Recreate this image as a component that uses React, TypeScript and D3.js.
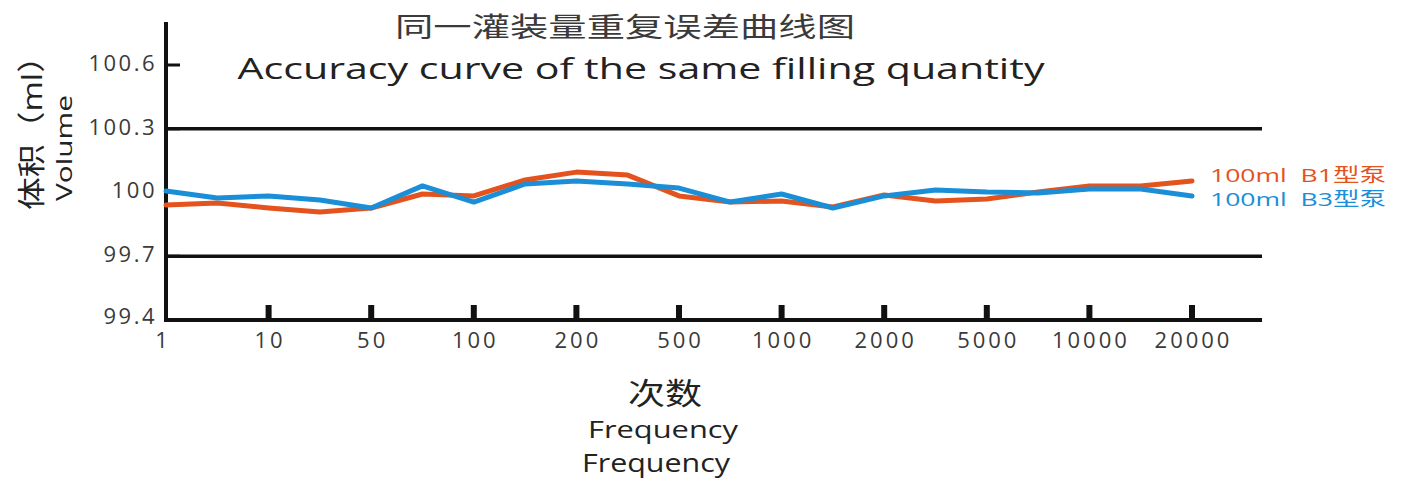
import React from 'react';
import * as d3 from 'd3';

// 21 measurements; every second one gets a labelled tick
const tickLabels = ['1', '10', '50', '100', '200', '500', '1000', '2000', '5000', '10000', '20000'];
const b1Values = [
  99.941, 99.951, 99.927, 99.908, 99.927, 99.993, 99.984, 100.059, 100.096, 100.082, 99.984,
  99.955, 99.96, 99.932, 99.988, 99.96, 99.969, 100.002, 100.031, 100.031, 100.054,
];
const b3Values = [
  100.007, 99.974, 99.984, 99.965, 99.927, 100.031, 99.955, 100.04, 100.054, 100.04, 100.021,
  99.955, 99.993, 99.927, 99.984, 100.012, 100.002, 99.998, 100.016, 100.016, 99.984,
];
const yTicks = [99.4, 99.7, 100, 100.3, 100.6];
const gridValues = [100.3, 99.7];
const seriesNames = ['100ml  B1型泵', '100ml  B3型泵'];

const W = 1402;
const H = 482;
const FONT = '"Open Sans", "Noto Sans CJK SC", sans-serif';
const ORANGE = '#e4531d';
const BLUE = '#1a8ed6';
const TEXT = '#3a3a3a';

const App: React.FC = () => {
  const x = d3.scaleLinear().domain([0, b1Values.length - 1]).range([166, 1192]);
  const y = d3.scaleLinear().domain([99.4, 100.6]).range([320, 65]);
  const line = d3.line<number>()
    .x((_, i) => x(i))
    .y(d => y(d));

  const axisLeft = 166;
  const axisRight = 1262;

  return (
    <svg width={W} height={H} style={{ position: 'absolute', left: 0, top: 0, background: '#fff' }}
      fontFamily={FONT}>
      {/* titles */}
      <text x={625} y={37} textAnchor="middle" fontSize={27} fill={TEXT} textLength={460}
        lengthAdjust="spacingAndGlyphs">同一灌装量重复误差曲线图</text>
      <text x={641} y={79} textAnchor="middle" fontSize={30} fill="#222" textLength={807}
        lengthAdjust="spacingAndGlyphs">Accuracy curve of the same filling quantity</text>

      {/* y axis title */}
      <text transform="translate(42,210) rotate(-90)" fontSize={28} fill="#222" textLength={170}
        lengthAdjust="spacingAndGlyphs">体积（ml）</text>
      <text transform="translate(72,201) rotate(-90)" fontSize={21} fill="#222" textLength={106}
        lengthAdjust="spacingAndGlyphs">Volume</text>

      {/* grid lines */}
      {gridValues.map(v => (
        <line key={v} x1={axisLeft} x2={axisRight} y1={y(v)} y2={y(v)} stroke="#111" strokeWidth={3.5} />
      ))}

      {/* y ticks */}
      {yTicks.slice(1).map(v => (
        <line key={'t' + v} x1={axisLeft} x2={180} y1={y(v)} y2={y(v)} stroke="#111" strokeWidth={3} />
      ))}
      {yTicks.map(v => (
        <text key={'l' + v} x={157} y={y(v) + (v === 99.4 ? -2 : 0)} textAnchor="end"
          dominantBaseline="middle" fontSize={22} letterSpacing={2.5} fill={TEXT}>
          {v === 100 ? '100' : v.toFixed(1)}
        </text>
      ))}

      {/* axes */}
      <line x1={axisLeft} x2={axisLeft} y1={22} y2={322} stroke="#111" strokeWidth={4} />
      <line x1={axisLeft - 2} x2={axisRight} y1={320} y2={320} stroke="#111" strokeWidth={4} />

      {/* x ticks */}
      {tickLabels.map((t, k) => (
        <g key={t}>
          {k > 0 && (
            <rect x={x(k * 2) - 3} y={305} width={6} height={14} fill="#111" />
          )}
          <text x={x(k * 2) + (k === 0 ? -3 : 1.5)} y={348} textAnchor="middle" fontSize={22}
            letterSpacing={3} fill={TEXT}>{t}</text>
        </g>
      ))}

      {/* series */}
      <path d={line(b1Values) || ''} fill="none" stroke={ORANGE} strokeWidth={5}
        strokeLinejoin="round" strokeLinecap="round" />
      <path d={line(b3Values) || ''} fill="none" stroke={BLUE} strokeWidth={5}
        strokeLinejoin="round" strokeLinecap="round" />

      {/* legend */}
      <text x={1210} y={182} fontSize={19} fill={ORANGE} textLength={176} lengthAdjust="spacingAndGlyphs"
        style={{ whiteSpace: 'pre' }}>{seriesNames[0]}</text>
      <text x={1210} y={206} fontSize={19} fill={BLUE} textLength={176} lengthAdjust="spacingAndGlyphs"
        style={{ whiteSpace: 'pre' }}>{seriesNames[1]}</text>

      {/* x axis title */}
      <text x={665} y={404} textAnchor="middle" fontSize={30} fill="#222" textLength={74}
        lengthAdjust="spacingAndGlyphs">次数</text>
      <text x={663} y={438} textAnchor="middle" fontSize={24} fill="#222" textLength={150}
        lengthAdjust="spacingAndGlyphs">Frequency</text>
      <text x={656} y={472} textAnchor="middle" fontSize={25} fill="#222" textLength={148}
        lengthAdjust="spacingAndGlyphs">Frequency</text>
    </svg>
  );
};

export default App;
